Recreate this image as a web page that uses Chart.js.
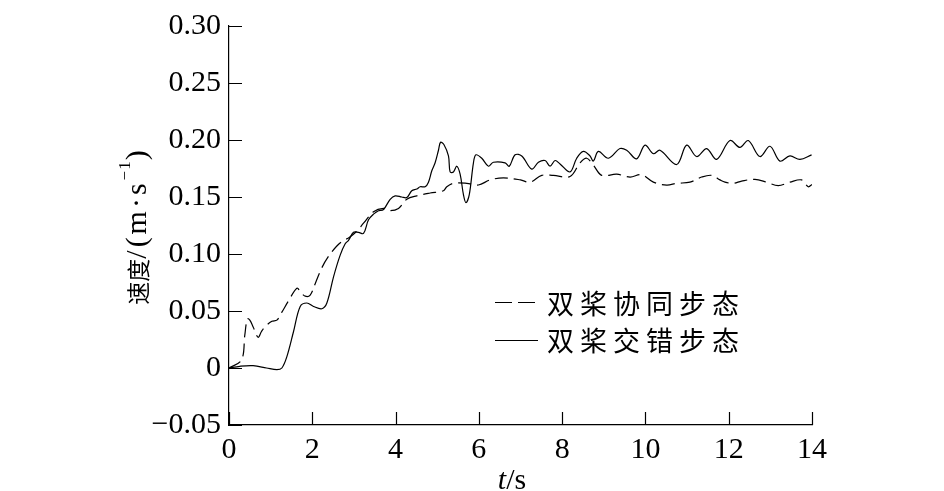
<!DOCTYPE html>
<html>
<head>
<meta charset="utf-8">
<script src="https://cdn.jsdelivr.net/npm/chart.js@4.4.0/dist/chart.umd.min.js"></script>
<style>
html, body { margin: 0; padding: 0; background: #fff; }
#wrap { width: 944px; height: 491px; }
</style>
</head>
<body>
<div id="wrap"><canvas id="myChart"></canvas></div>
<script>
// 双桨协同步态 (dashed)
var timeSync = [0, 0.3, 0.38, 0.44, 0.5, 0.58, 0.7, 0.78, 0.86, 1.03, 1.15, 1.27, 1.43, 1.63, 1.71, 1.83, 1.95, 2.07, 2.23, 2.39,
    2.59, 2.75, 2.87, 3.07, 3.23, 3.47, 3.71, 3.87, 4.07, 4.27, 4.51, 4.83, 5.15, 5.23, 5.39, 5.71, 5.99, 6.27, 6.59, 7.0,
    7.23, 7.51, 7.79, 8.19, 8.43, 8.59, 8.75, 8.95, 9.31, 9.63, 9.91, 10.19, 10.51, 10.75, 11.07, 11.35, 11.59, 11.79, 11.91, 12.11,
    12.31, 12.63, 12.91, 13.19, 13.47, 13.75, 13.91, 14.0];
var speedSync = [0, 0.007, 0.029, 0.043, 0.042, 0.036, 0.027, 0.032, 0.036, 0.041, 0.042, 0.049, 0.059, 0.070, 0.067, 0.063, 0.064, 0.074, 0.088, 0.098,
    0.107, 0.112, 0.114, 0.120, 0.127, 0.137, 0.140, 0.138, 0.140, 0.148, 0.151, 0.1535, 0.1555, 0.159, 0.162, 0.162, 0.1605, 0.165, 0.1667, 0.165,
    0.163, 0.169, 0.169, 0.168, 0.180, 0.184, 0.178, 0.169, 0.170, 0.1675, 0.1695, 0.163, 0.1605, 0.162, 0.163, 0.1675, 0.169, 0.165, 0.163, 0.162,
    0.164, 0.1655, 0.163, 0.160, 0.163, 0.165, 0.159, 0.161];

// 双桨交错步态 (solid)
var timeStag = [0, 0.26, 0.58, 0.9, 1.15, 1.27, 1.39, 1.55, 1.71, 1.87, 2.03, 2.23, 2.35, 2.51, 2.67, 2.79, 2.87, 2.99, 3.11, 3.23,
    3.35, 3.47, 3.59, 3.71, 3.87, 3.99, 4.15, 4.27, 4.39, 4.51, 4.59, 4.71, 4.79, 4.87, 4.95, 5.03, 5.08, 5.16, 5.27, 5.31,
    5.39, 5.47, 5.55, 5.63, 5.69, 5.77, 5.87, 5.93, 6.07, 6.23, 6.35, 6.63, 6.73, 6.87, 7.03, 7.27, 7.43, 7.59, 7.71, 7.83,
    7.95, 8.19, 8.35, 8.51, 8.67, 8.75, 8.87, 9.11, 9.39, 9.55, 9.79, 9.99, 10.19, 10.35, 10.75, 10.99, 11.23, 11.47, 11.71, 12.03,
    12.27, 12.47, 12.75, 12.99, 13.23, 13.47, 13.71, 13.99];
var speedStag = [0, 0.0015, 0.002, 0.0, -0.0015, 0, 0.01, 0.032, 0.054, 0.057, 0.054, 0.052, 0.057, 0.080, 0.099, 0.109, 0.112, 0.119, 0.119, 0.118,
    0.130, 0.135, 0.138, 0.139, 0.148, 0.151, 0.150, 0.1495, 0.1555, 0.157, 0.159, 0.159, 0.163, 0.173, 0.180, 0.191, 0.198, 0.196, 0.186, 0.172,
    0.172, 0.177, 0.170, 0.152, 0.145, 0.152, 0.180, 0.187, 0.184, 0.177, 0.1805, 0.180, 0.177, 0.187, 0.186, 0.1745, 0.1805, 0.182, 0.177, 0.182,
    0.179, 0.172, 0.184, 0.190, 0.186, 0.1815, 0.190, 0.184, 0.1925, 0.191, 0.1835, 0.1955, 0.188, 0.191, 0.1785, 0.1955, 0.1855, 0.1925, 0.183, 0.1995,
    0.1935, 0.1995, 0.1855, 0.1945, 0.1815, 0.186, 0.183, 0.187];

var seriesNames = ['双桨协同步态', '双桨交错步态'];
var xTicks = [0, 2, 4, 6, 8, 10, 12, 14];
var yTicks = [-0.05, 0, 0.05, 0.10, 0.15, 0.20, 0.25, 0.30];
var yTickLabels = ['\u22120.05', '0', '0.05', '0.10', '0.15', '0.20', '0.25', '0.30'];

function toPoints(xs, ys) {
    var pts = [];
    for (var i = 0; i < xs.length; i++) pts.push({ x: xs[i], y: ys[i] });
    return pts;
}

var serif = '"Liberation Serif", "Times New Roman", serif';
var cjk = '"Noto Sans CJK SC", sans-serif';

// ticks point inward, titles and legend drawn by hand
var extras = {
    id: 'extras',
    afterDraw: function (chart) {
        var c = chart.ctx, a = chart.chartArea;
        var xs = chart.scales.x, ys = chart.scales.y;
        c.save();
        c.strokeStyle = '#000';
        c.lineWidth = 1.2;
        c.beginPath();
        xTicks.forEach(function (v) {
            var px = Math.round(xs.getPixelForValue(v)) + 0.5;
            c.moveTo(px, a.bottom); c.lineTo(px, a.bottom - 13);
        });
        yTicks.forEach(function (v) {
            var py = Math.round(ys.getPixelForValue(v)) + 0.5;
            c.moveTo(a.left, py); c.lineTo(a.left + 13, py);
        });
        c.stroke();

        // y title
        c.fillStyle = '#000';
        c.textBaseline = 'middle';
        var parts = [
            { t: '速度', f: '23px ' + cjk, dy: 0, ls: '0px' },
            { t: '/(m\u00b7s', f: '30px ' + serif, dy: 0, ls: '3px' },
            { t: '\u22121', f: '17px ' + serif, dy: -12, ls: '1px' },
            { t: ')', f: '30px ' + serif, dy: 0, ls: '0px' }
        ];
        var total = 0;
        parts.forEach(function (p) { c.font = p.f; c.letterSpacing = p.ls; p.w = c.measureText(p.t).width; total += p.w; });
        c.translate(138, (a.top + a.bottom) / 2 + 2);
        c.rotate(-Math.PI / 2);
        var x0 = -total / 2;
        c.textAlign = 'left';
        parts.forEach(function (p) { c.font = p.f; c.letterSpacing = p.ls; c.fillText(p.t, x0, p.dy); x0 += p.w; });
        c.setTransform(1, 0, 0, 1, 0, 0);
        c.letterSpacing = '0px';

        // x title
        c.textBaseline = 'alphabetic';
        c.font = 'italic 30px ' + serif;
        var w1 = c.measureText('t').width;
        c.font = '30px ' + serif;
        var w2 = c.measureText('/s').width;
        var xt = 512 - (w1 + w2) / 2;
        c.font = 'italic 30px ' + serif;
        c.fillText('t', xt, 489);
        c.font = '30px ' + serif;
        c.fillText('/s', xt + w1, 489);

        // legend
        c.lineWidth = 1.2;
        c.beginPath();
        c.moveTo(495, 302.5); c.lineTo(512, 302.5);
        c.moveTo(518, 302.5); c.lineTo(535, 302.5);
        c.moveTo(495, 340.5); c.lineTo(538, 340.5);
        c.stroke();
        c.font = '27px ' + cjk;
        c.textBaseline = 'middle';
        c.letterSpacing = '6px';
        c.fillText(seriesNames[0], 547, 304);
        c.fillText(seriesNames[1], 547, 341);
        c.restore();
    }
};

var ctx = document.getElementById('myChart').getContext('2d');
var chart = new Chart(ctx, {
    type: 'line',
    data: {
        datasets: [{
            label: seriesNames[0],
            data: toPoints(timeSync, speedSync),
            borderColor: '#000',
            borderWidth: 1.2,
            borderDash: [13, 6],
            pointRadius: 0,
            tension: 0.35,
            fill: false
        }, {
            label: seriesNames[1],
            data: toPoints(timeStag, speedStag),
            borderColor: '#000',
            borderWidth: 1.2,
            pointRadius: 0,
            tension: 0.35,
            fill: false
        }]
    },
    options: {
        responsive: true,
        maintainAspectRatio: false,
        animation: false,
        layout: { padding: { top: 7, right: 132, left: 0, bottom: 0 } },
        plugins: { legend: { display: false }, tooltip: { enabled: false } },
        scales: {
            x: {
                type: 'linear',
                min: 0, max: 14,
                afterBuildTicks: function (s) { s.ticks = xTicks.map(function (v) { return { value: v }; }); },
                afterFit: function (s) { s.height = 66; },
                ticks: { color: '#000', font: { family: serif, size: 30 }, padding: 7, maxRotation: 0, autoSkip: false },
                grid: { drawOnChartArea: false, drawTicks: false },
                border: { color: '#000', width: 1.2 }
            },
            y: {
                min: -0.05, max: 0.30,
                afterBuildTicks: function (s) { s.ticks = yTicks.map(function (v) { return { value: v }; }); },
                afterFit: function (s) { s.width = 229; },
                ticks: {
                    color: '#000', font: { family: serif, size: 30 }, padding: 8, autoSkip: false,
                    callback: function (v, i) { return yTickLabels[i]; }
                },
                grid: { drawOnChartArea: false, drawTicks: false },
                border: { color: '#000', width: 1.2 }
            }
        }
    },
    plugins: [extras]
});
</script>
</body>
</html>
